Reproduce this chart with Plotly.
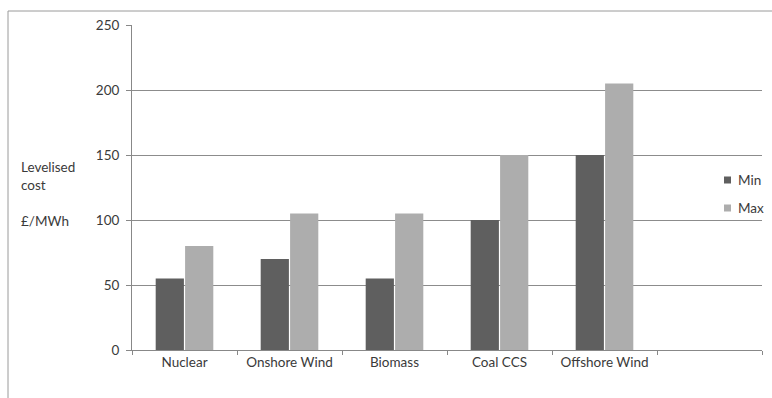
import plotly.graph_objects as go

categories = ["Nuclear", "Onshore Wind", "Biomass", "Coal CCS", "Offshore Wind", " "]
min_cost = [55, 70, 55, 100, 150, None]
max_cost = [80, 105, 105, 150, 205, None]
y_ticks = [0, 50, 100, 150, 200, 250]
series_names = ["Min", "Max"]

FONT = "Lato"
TEXT = "#3a3a3a"
MIN_COLOR = "#5f5f5f"
MAX_COLOR = "#adadad"

fig = go.Figure()
fig.add_trace(go.Bar(
    name=series_names[0], x=categories, y=min_cost,
    marker=dict(color=MIN_COLOR, line=dict(width=0)), showlegend=False,
))
fig.add_trace(go.Bar(
    name=series_names[1], x=categories, y=max_cost,
    marker=dict(color=MAX_COLOR, line=dict(width=0)), showlegend=False,
))

# plot area in pixels: x 132..762, y 25..350
L, R, T, B = 132, 762, 25, 350
W, H = 772, 398
def px(x):
    return (x - L) / (R - L)
def py(y):
    return (B - y) / (B - T)

shapes = [
    dict(type="line", xref="paper", yref="paper", x0=px(8), x1=px(780), y0=py(11), y1=py(11),
         line=dict(color="#9a9a9a", width=1)),
    dict(type="line", xref="paper", yref="paper", x0=px(8), x1=px(8), y0=py(11), y1=py(400),
         line=dict(color="#9a9a9a", width=1)),
]

annotations = [
    dict(text="Levelised", x=px(19), y=py(167), xref="paper", yref="paper",
         xanchor="left", yanchor="middle", showarrow=False),
    dict(text="cost", x=px(19), y=py(185), xref="paper", yref="paper",
         xanchor="left", yanchor="middle", showarrow=False),
    dict(text="£/MWh", x=px(19), y=py(221), xref="paper", yref="paper",
         xanchor="left", yanchor="middle", showarrow=False),
]

# legend: small square swatch + label per series
for name, color, row_y in zip(series_names, [MIN_COLOR, MAX_COLOR], [180, 208]):
    shapes.append(dict(type="rect", xref="paper", yref="paper",
                       x0=px(724), x1=px(731), y0=py(row_y + 3.5), y1=py(row_y - 3.5),
                       fillcolor=color, line=dict(width=0)))
    annotations.append(dict(text=name, x=px(736), y=py(row_y), xref="paper", yref="paper",
                            xanchor="left", yanchor="middle", showarrow=False))

fig.update_layout(
    width=W, height=H,
    margin=dict(l=L, r=W - R, t=T, b=H - B, autoexpand=False),
    paper_bgcolor="white", plot_bgcolor="white",
    font=dict(family=FONT, size=13.5, color=TEXT),
    barmode="group", bargap=0.44, bargroupgap=0.04,
    shapes=shapes, annotations=annotations,
    showlegend=False,
    xaxis=dict(
        type="category", categoryorder="array", categoryarray=categories,
        range=[-0.5, 5.5], tickson="boundaries", ticks="outside", ticklen=4,
        tickcolor="#888888", showline=True, linecolor="#888888", linewidth=1,
        showgrid=False, tickfont=dict(size=13.5, color=TEXT),
    ),
    yaxis=dict(
        range=[0, 250], tickvals=y_ticks, ticks="outside", ticklen=5,
        tickcolor="#888888", showline=True, linecolor="#888888", linewidth=1,
        showgrid=True, gridcolor="#8c8c8c", gridwidth=1, zeroline=False,
        tickfont=dict(size=13.5, color=TEXT), ticklabelstandoff=4,
    ),
)

fig.write_html("out.html")
